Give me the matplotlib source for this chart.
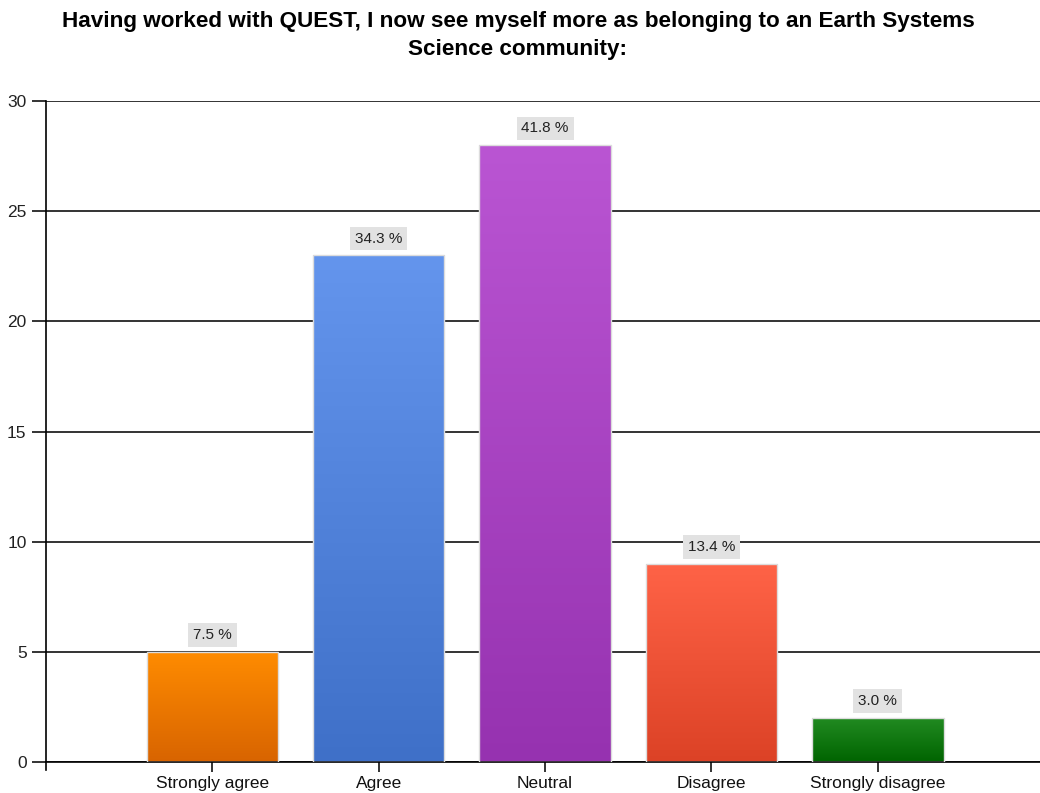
import numpy as np
import matplotlib
matplotlib.use("Agg")
import matplotlib.pyplot as plt
from matplotlib.colors import LinearSegmentedColormap

categories = ["Strongly agree", "Agree", "Neutral", "Disagree", "Strongly disagree"]
counts = [5, 23, 28, 9, 2]
percent_labels = ["7.5 %", "34.3 %", "41.8 %", "13.4 %", "3.0 %"]
yticks = [0, 5, 10, 15, 20, 25, 30]

# top / bottom colours of each bar's vertical gradient
top_colors = ["#FF8C00", "#6495ED", "#BA55D3", "#FF6347", "#228B22"]
bottom_colors = ["#D86400", "#3F70C8", "#9632B0", "#DC4226", "#006400"]

title = ("Having worked with QUEST, I now see myself more as belonging to an Earth Systems\n"
         "Science community:")

plt.rcParams["font.family"] = ["Liberation Sans", "DejaVu Sans"]

fig = plt.figure(figsize=(10.4, 7.93), dpi=100)
ax = fig.add_axes([46 / 1040, 31 / 793, 1 - 46 / 1040, (762 - 101) / 793])

x = np.arange(len(categories))
width = 0.79
bars = ax.bar(x, counts, width=width, color="none", edgecolor="#dcdcdc",
              linewidth=1.0, zorder=3)

grad = np.linspace(1, 0, 256).reshape(-1, 1)
for bar, c_top, c_bot in zip(bars, top_colors, bottom_colors):
    cmap = LinearSegmentedColormap.from_list("g", [c_bot, c_top])
    x0, y0 = bar.get_x(), bar.get_y()
    w, h = bar.get_width(), bar.get_height()
    im = ax.imshow(grad, cmap=cmap, vmin=0, vmax=1, aspect="auto",
                   extent=[x0, x0 + w, y0, y0 + h], zorder=2, interpolation="bilinear")
    im.set_clip_path(bar)

for xi, v, lab in zip(x, counts, percent_labels):
    ax.annotate(lab, (xi, v), xytext=(0, 12), textcoords="offset points",
                ha="center", va="center", fontsize=11, color="#222222",
                bbox=dict(boxstyle="square,pad=0.32", facecolor="#e2e2e2",
                          edgecolor="none"), zorder=5)

ax.set_xlim(-1, 4.975)
ax.set_ylim(0, 30)
ax.set_yticks(yticks)
ax.set_xticks(x)
ax.set_xticklabels(categories, fontsize=12.5, color="#111111")
ax.tick_params(axis="y", labelsize=12.5, labelcolor="#222222", length=10, width=1.2,
               pad=4, color="#111111")
ax.tick_params(axis="x", length=7, width=1.2, pad=3, color="#111111")

ax.grid(axis="y", color="#111111", linewidth=1.2, zorder=1)
ax.set_axisbelow(True)
for s in ["top", "right"]:
    ax.spines[s].set_visible(False)
ax.spines["left"].set_linewidth(1.2)
ax.spines["bottom"].set_linewidth(1.2)
ax.spines["left"].set_bounds(-0.35, 30)

fig.text(0.498, 0.986, title, ha="center", va="top", fontsize=16.2,
         fontweight="bold", color="#000000", linespacing=1.45)

fig.savefig("out.png", dpi=100)
